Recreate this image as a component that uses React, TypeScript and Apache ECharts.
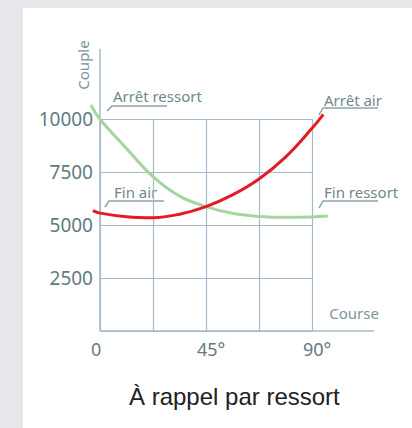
import React, { useEffect, useRef } from "react";
import * as echarts from "echarts";

// Course (degrees) / Couple values
const springCurve: [number, number][] = [
  [-3.9, 10660], [0, 9990], [11.25, 8610], [22.5, 7280], [33.75, 6360], [45, 5870],
  [56.25, 5550], [67.5, 5400], [78.75, 5360], [90, 5380], [96.7, 5425],
];
const airCurve: [number, number][] = [
  [-3, 5675], [0, 5560], [11.25, 5390], [22.5, 5345], [33.75, 5510], [45, 5870],
  [56.25, 6420], [67.5, 7170], [78.75, 8200], [90, 9560], [94.8, 10220],
];
const xTickLabels: Record<number, string> = { 0: "0", 45: "45°", 90: "90°" };
const yTicks = [0, 2500, 5000, 7500, 10000];
const titleText = "À rappel par ressort";
const xName = "Course";
const yName = "Couple";

const GRID = "#a3bacd";
const LABEL = "#5f7b82";
const NOTE = "#6d878d";
const LEADER = "#8ea2a7";
const FONT = "'Noto Sans', 'Open Sans', sans-serif";

export default function App() {
  const ref = useRef<HTMLDivElement>(null);
  useEffect(() => {
    if (!ref.current) return;
    const chart = echarts.init(ref.current, undefined, { renderer: "svg" });
    const note = (text: string, x: number, y: number) => ({
      type: "text",
      x,
      y,
      style: { text, fill: NOTE, font: `15px ${FONT}`, textVerticalAlign: "middle" },
    });
    const leader = (pts: number[][]) => ({
      type: "polyline",
      shape: { points: pts },
      style: { stroke: LEADER, lineWidth: 1.5, fill: null },
    });
    chart.setOption({
      animation: false,
      backgroundColor: "#e6e7eb",
      grid: [
        { left: 100, right: 100, top: 119, bottom: 97 },
        // wider, invisible frame on the same scale so the curves may run past the gridded area
        { left: 47, right: 47, top: 66, bottom: 97 },
      ],
      xAxis: [
        {
          type: "value",
          gridIndex: 0,
          min: 0,
          max: 90,
          interval: 22.5,
          axisLine: { show: false },
          axisTick: { show: false },
          splitLine: { show: true, lineStyle: { color: GRID, width: 1.2 } },
          axisLabel: {
            color: LABEL,
            fontSize: 18,
            fontFamily: FONT,
            margin: 9,
            align: "left",
            padding: [0, 0, 0, -9],
            formatter: (v: number) => xTickLabels[v] ?? "",
          },
        },
        {
          type: "value",
          gridIndex: 1,
          min: -22.5,
          max: 112.5,
          interval: 22.5,
          show: false,
        },
      ],
      yAxis: [
        {
          type: "value",
          gridIndex: 0,
          min: yTicks[0],
          max: yTicks[yTicks.length - 1],
          interval: 2500,
          axisLine: { show: false },
          axisTick: { show: false },
          splitLine: { show: true, lineStyle: { color: GRID, width: 1.2 } },
          axisLabel: {
            color: LABEL,
            fontSize: 19,
            fontFamily: FONT,
            margin: 7,
            formatter: (v: number) => (v === 0 ? "" : String(v)),
          },
        },
        {
          type: "value",
          gridIndex: 1,
          min: 0,
          max: 12500,
          interval: 2500,
          show: false,
        },
      ],
      title: {
        text: titleText,
        left: 124,
        top: 379,
        textStyle: { color: "#222222", fontSize: 24, fontWeight: "normal", fontFamily: "'Liberation Sans', Arial, sans-serif" },
      },
      graphic: [
        { type: "rect", z: -100, shape: { x: 23, y: 8, width: 389, height: 420 }, style: { fill: "#ffffff" } },
        { type: "line", shape: { x1: 100, y1: 49, x2: 100, y2: 331 }, style: { stroke: GRID, lineWidth: 1.5 } },
        { type: "line", shape: { x1: 100, y1: 331, x2: 374, y2: 331 }, style: { stroke: GRID, lineWidth: 1.5 } },
        {
          type: "text",
          x: 354,
          y: 313,
          style: { text: xName, fill: "#7b959c", font: `15px ${FONT}`, textAlign: "center", textVerticalAlign: "middle" },
        },
        {
          type: "text",
          x: 83,
          y: 65,
          rotation: Math.PI / 2,
          style: { text: yName, fill: "#7b959c", font: `15px ${FONT}`, textAlign: "center", textVerticalAlign: "middle" },
        },
        note("Arrêt ressort", 113, 96),
        leader([[107, 111], [112, 106], [167, 106]]),
        note("Arrêt air", 324, 100),
        leader([[319, 115], [323, 108], [378, 108]]),
        note("Fin air", 114, 192),
        leader([[105, 207], [109, 201], [164, 201]]),
        note("Fin ressort", 324, 192),
        leader([[319, 208], [323, 201], [378, 201]]),
      ],
      series: [
        {
          name: "Ressort",
          type: "line",
          xAxisIndex: 1,
          yAxisIndex: 1,
          data: springCurve,
          smooth: 0.4,
          clip: false,
          symbol: "none",
          lineStyle: { color: "#a6d4a0", width: 3 },
        },
        {
          name: "Air",
          type: "line",
          xAxisIndex: 1,
          yAxisIndex: 1,
          data: airCurve,
          smooth: 0.4,
          clip: false,
          symbol: "none",
          lineStyle: { color: "#e31b23", width: 3 },
        },
      ],
    });
    return () => chart.dispose();
  }, []);
  return <div ref={ref} style={{ position: "absolute", left: 0, top: 0, width: 412, height: 428 }} />;
}
